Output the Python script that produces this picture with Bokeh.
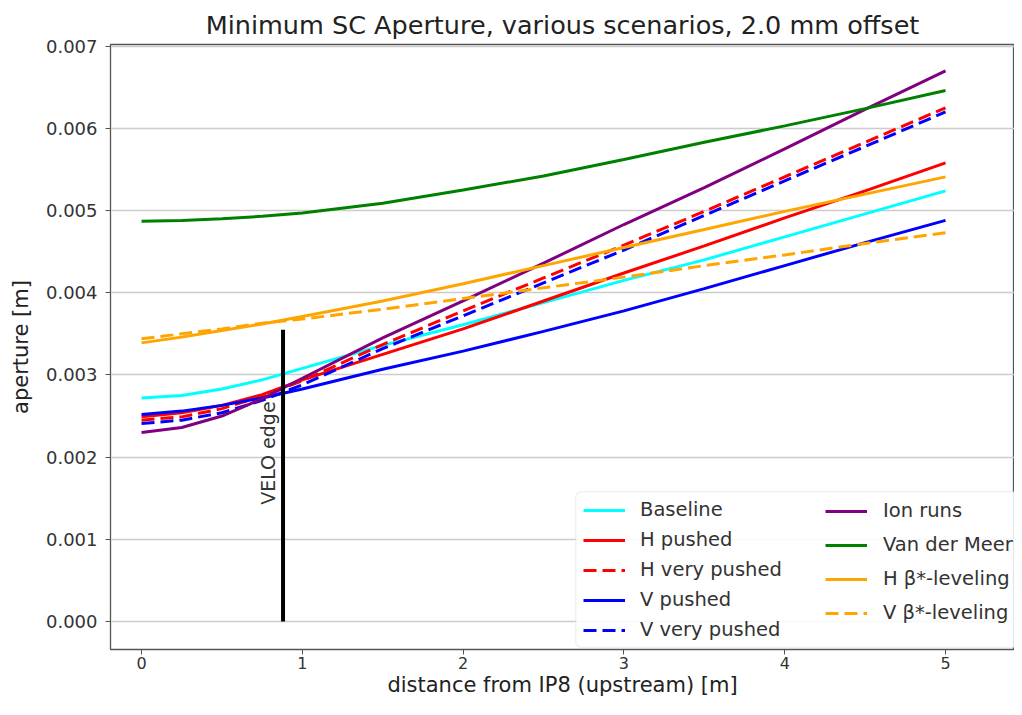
import numpy as np
from bokeh.plotting import figure
from bokeh.models import (Range1d, Legend, LegendItem, BoxAnnotation,
                          PrintfTickFormatter, FixedTicker, Label)
from bokeh.embed import file_html
from bokeh.resources import INLINE

# ---------------- data ----------------
distance = [0, 0.25, 0.5, 0.75, 1, 1.5, 2, 2.5, 3, 3.5, 4, 4.5, 5]

baseline      = [0.00272, 0.00275, 0.00283, 0.00294, 0.00308, 0.00336, 0.00361, 0.00388, 0.00415, 0.00440, 0.00468, 0.00496, 0.00524]
h_pushed      = [0.00249, 0.00254, 0.00263, 0.00276, 0.00294, 0.00325, 0.00356, 0.00390, 0.00424, 0.00457, 0.00491, 0.00524, 0.00558]
h_very_pushed = [0.00245, 0.00249, 0.00259, 0.00274, 0.00293, 0.00337, 0.00378, 0.00418, 0.00458, 0.00499, 0.00541, 0.00583, 0.00625]
v_pushed      = [0.00252, 0.00256, 0.00263, 0.00272, 0.00283, 0.00307, 0.00329, 0.00353, 0.00378, 0.00405, 0.00433, 0.00461, 0.00488]
v_very_pushed = [0.00241, 0.00245, 0.00254, 0.00269, 0.00288, 0.00332, 0.00372, 0.00412, 0.00452, 0.00494, 0.00536, 0.00578, 0.00620]
ion_runs      = [0.00230, 0.00236, 0.00250, 0.00271, 0.00296, 0.00345, 0.00390, 0.00436, 0.00483, 0.00528, 0.00575, 0.00623, 0.00670]
van_der_meer  = [0.00487, 0.00488, 0.00490, 0.00493, 0.00497, 0.00509, 0.00525, 0.00542, 0.00562, 0.00583, 0.00603, 0.00624, 0.00646]
h_beta_lev    = [0.00339, 0.00346, 0.00354, 0.00362, 0.00371, 0.00390, 0.00411, 0.00433, 0.00455, 0.00477, 0.00499, 0.00520, 0.00541]
v_beta_lev    = [0.00344, 0.00350, 0.00356, 0.00363, 0.00368, 0.00380, 0.00393, 0.00406, 0.00419, 0.00433, 0.00446, 0.00460, 0.00473]

velo_x = [0.88, 0.88]
velo_y = [0.0, 0.00355]

x_ticks = [0, 1, 2, 3, 4, 5]
y_ticks = [0.000, 0.001, 0.002, 0.003, 0.004, 0.005, 0.006, 0.007]

FONT = "DejaVu Sans"
DASH = "13 6"

p = figure(width=1014, height=699, output_backend="svg", toolbar_location=None,
           x_range=Range1d(-0.193, 5.429), y_range=Range1d(-0.00034, 0.00702),
           min_border_left=110, min_border_right=0, min_border_top=44, min_border_bottom=49)
p.background_fill_color = "white"
p.border_fill_color = "white"
p.outline_line_color = "#555555"
p.outline_line_width = 1.3

p.title.text = "Minimum SC Aperture, various scenarios, 2.0 mm offset"
p.title.align = "center"
p.title.offset = 8
p.title.text_font = FONT
p.title.text_font_size = "25.5px"
p.title.text_font_style = "normal"
p.title.text_color = "#222222"
p.title.standoff = 10

p.xgrid.grid_line_color = None
p.ygrid.grid_line_color = "#cccccc"
p.ygrid.grid_line_width = 1.5

for ax in (p.xaxis[0], p.yaxis[0]):
    ax.axis_line_color = "#555555"
    ax.major_tick_line_color = "#555555"
    ax.major_tick_out = 5
    ax.major_tick_in = 0
    ax.minor_tick_line_color = None
    ax.major_label_text_font = FONT
    ax.major_label_text_color = "#333333"
    ax.axis_label_text_font = FONT
    ax.axis_label_text_font_style = "normal"
    ax.axis_label_text_color = "#222222"

p.xaxis.major_label_text_font_size = "16px"
p.yaxis.major_label_text_font_size = "18px"
p.xaxis.axis_label_text_font_size = "21px"
p.yaxis.axis_label_text_font_size = "21px"

p.xaxis.ticker = FixedTicker(ticks=x_ticks)
p.yaxis.ticker = FixedTicker(ticks=y_ticks)
p.yaxis.formatter = PrintfTickFormatter(format="%.3f")
p.xaxis.axis_label = "distance from IP8 (upstream) [m]"
p.yaxis.axis_label = "aperture [m]"
p.xaxis.major_label_standoff = 2
p.xaxis.axis_label_standoff = 1
p.yaxis.major_label_standoff = 8
p.yaxis.axis_label_standoff = 10

LW = 3
r_base = p.line(distance, baseline, line_color="cyan", line_width=LW)
r_hp = p.line(distance, h_pushed, line_color="red", line_width=LW)
r_hvp = p.line(distance, h_very_pushed, line_color="red", line_width=LW, line_dash=DASH)
r_vp = p.line(distance, v_pushed, line_color="blue", line_width=LW)
r_vvp = p.line(distance, v_very_pushed, line_color="blue", line_width=LW, line_dash=DASH)
r_ion = p.line(distance, ion_runs, line_color="purple", line_width=LW)
r_vdm = p.line(distance, van_der_meer, line_color="green", line_width=LW)
r_hb = p.line(distance, h_beta_lev, line_color="orange", line_width=LW)
r_vb = p.line(distance, v_beta_lev, line_color="orange", line_width=LW, line_dash=DASH)

p.line(velo_x, velo_y, line_color="black", line_width=4)
p.add_layout(Label(x=0.858, y=0.00142, text="VELO edge", angle=90, angle_units="deg",
                   text_align="left", text_baseline="bottom", text_font=FONT,
                   text_font_size="19px", text_color="#333333"))

# legend frame
p.add_layout(BoxAnnotation(left=2.70, right=6.0, bottom=-0.000316, top=0.00158,
                           fill_color="white", fill_alpha=0.85,
                           line_color="#cccccc", line_width=1.5, border_radius=6))

def make_legend(items, loc, spacing, standoff):
    return Legend(items=items, location=loc, orientation="vertical",
                  glyph_width=42, glyph_height=20, label_height=20,
                  label_standoff=standoff, spacing=spacing, padding=0, margin=0,
                  border_line_color=None, background_fill_alpha=0,
                  label_text_font=FONT, label_text_font_size="19.5px",
                  label_text_color="#333333")

leg1 = make_legend([
    LegendItem(label="Baseline", renderers=[r_base]),
    LegendItem(label="H pushed", renderers=[r_hp]),
    LegendItem(label="H very pushed", renderers=[r_hvp]),
    LegendItem(label="V pushed", renderers=[r_vp]),
    LegendItem(label="V very pushed", renderers=[r_vvp]),
], (473, 8), 7, 15)
leg2 = make_legend([
    LegendItem(label="Ion runs", renderers=[r_ion]),
    LegendItem(label="Van der Meer", renderers=[r_vdm]),
    LegendItem(label="H β*-leveling", renderers=[r_hb]),
    LegendItem(label="V β*-leveling", renderers=[r_vb]),
], (715, 25), 11, 16)
p.add_layout(leg1)
p.add_layout(leg2)

open("out.html", "w").write(file_html(p, INLINE))
